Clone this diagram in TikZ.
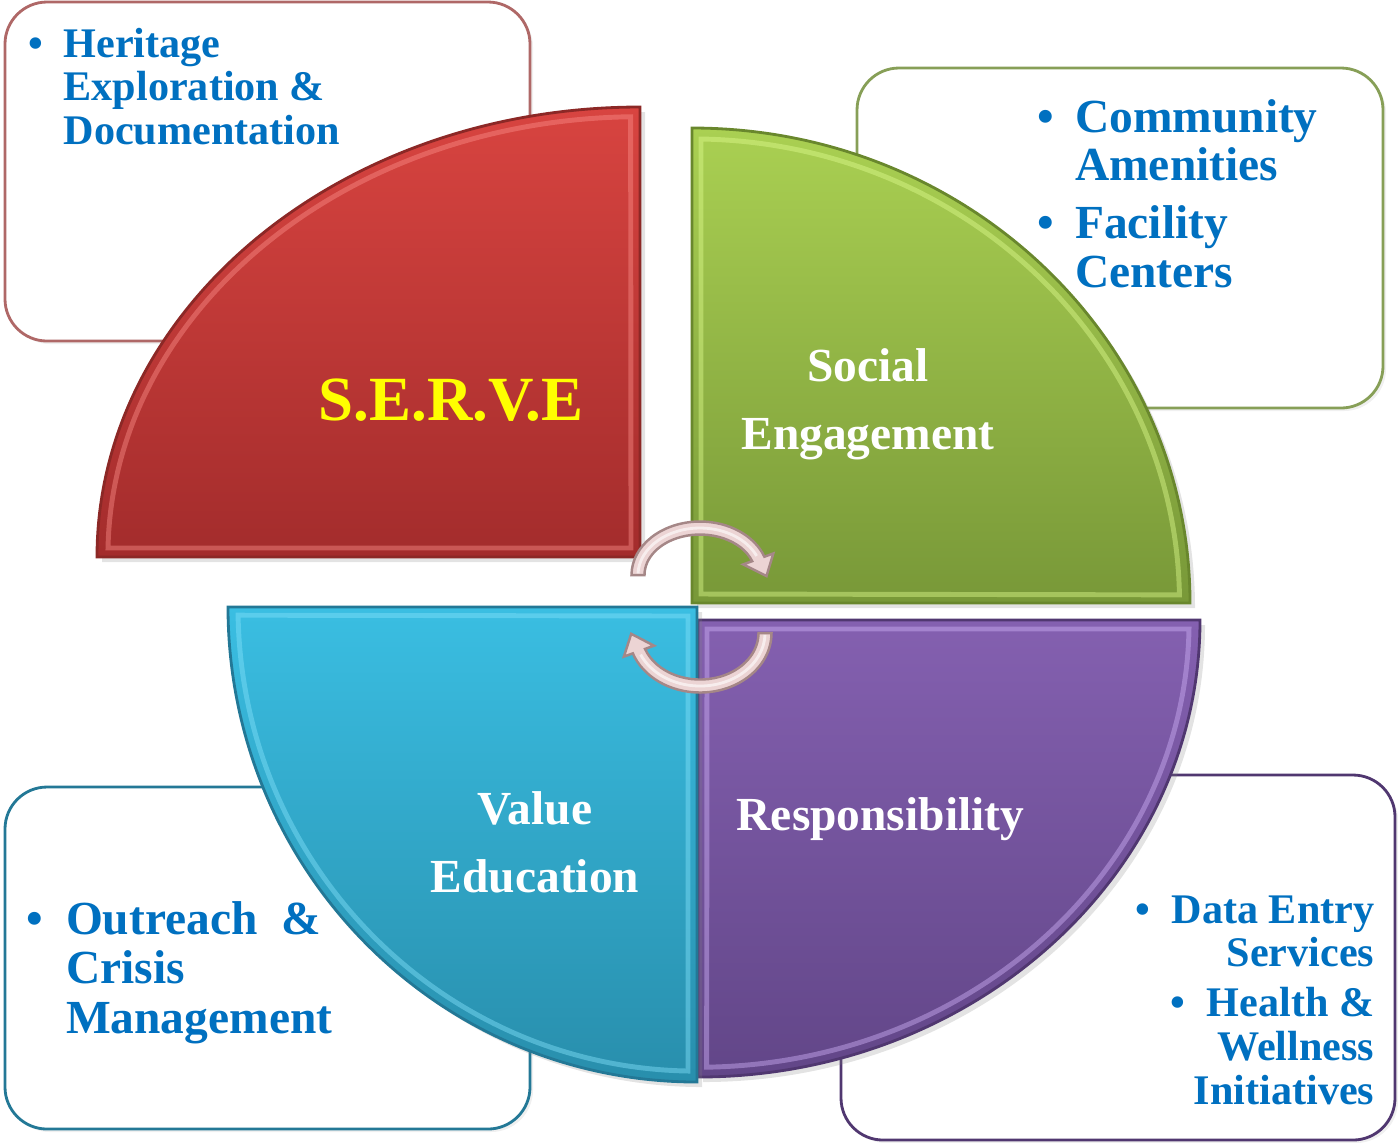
\documentclass[tikz,border=0pt]{standalone}
\usepackage{fontspec}
\setmainfont{Liberation Serif}
\usetikzlibrary{calc}
\usetikzlibrary{shadows}

\definecolor{listblue}{RGB}{0,112,192}
\definecolor{serveyellow}{RGB}{255,255,0}
\definecolor{redtop}{RGB}{216,68,64}
\definecolor{redbot}{RGB}{163,44,44}
\definecolor{redline}{RGB}{140,40,38}
\definecolor{redlight}{RGB}{250,140,135}
\definecolor{greentop}{RGB}{170,208,82}
\definecolor{greenbot}{RGB}{120,152,56}
\definecolor{greenline}{RGB}{105,135,45}
\definecolor{greenlight}{RGB}{220,250,140}
\definecolor{purpletop}{RGB}{132,96,176}
\definecolor{purplebot}{RGB}{98,70,136}
\definecolor{purpleline}{RGB}{80,55,112}
\definecolor{purplelight}{RGB}{205,175,245}
\definecolor{bluetop}{RGB}{58,190,226}
\definecolor{bluebot}{RGB}{40,142,172}
\definecolor{blueline}{RGB}{35,120,150}
\definecolor{bluelight}{RGB}{130,225,250}
\definecolor{cycfill}{RGB}{236,212,212}
\definecolor{cycline}{RGB}{165,135,135}

\begin{document}
\begin{tikzpicture}[
    listbox/.style={fill=white, line width=0.8pt, rounded corners=0.42cm, drop shadow={opacity=0.12, shadow xshift=0.03, shadow yshift=-0.03}},
    quad/.style={line width=0.8pt, drop shadow={opacity=0.22, shadow xshift=0.05, shadow yshift=-0.05}},
    bevel/.style={line width=1.4pt, opacity=0.45},
    cyc/.style={fill=cycfill, draw=cycline, line width=0.7pt},
    listtext/.style={inner sep=0pt, text=listblue},
    quadtext/.style={inner sep=0pt, text=white, font=\bfseries\fontsize{13.5}{19.6}\selectfont}
  ]
    \useasboundingbox (0,0) rectangle (13.98,-11.42);

    % boxes behind the quadrants
    \draw[listbox, draw=redline!70] (0.05,-0.02) rectangle (5.30,-3.41);
    \draw[listbox, draw=greenline!80] (8.57,-0.68) rectangle (13.83,-4.08);
    \draw[listbox, draw=blueline] (0.05,-7.87) rectangle (5.30,-11.29);
    \draw[listbox, draw=purpleline] (8.41,-7.75) rectangle (13.95,-11.40);

    % quadrants
    \shade[quad, draw=redline, top color=redtop, bottom color=redbot] (6.40,-5.57) -- (0.97,-5.57) arc[start angle=180, end angle=90, x radius=5.43, y radius=4.50] -- cycle;
    \draw[bevel, draw=redlight] (6.31,-5.48) -- (1.08,-5.48) arc[start angle=179, end angle=91, x radius=5.32, y radius=4.39] -- cycle;

    \shade[quad, draw=greenline, top color=greentop, bottom color=greenbot] (6.92,-6.03) -- (6.92,-1.28) arc[start angle=90, end angle=0, x radius=4.98, y radius=4.75] -- cycle;
    \draw[bevel, draw=greenlight] (7.01,-5.94) -- (7.01,-1.39) arc[start angle=89, end angle=1, x radius=4.87, y radius=4.64] -- cycle;

    \shade[quad, draw=purpleline, top color=purpletop, bottom color=purplebot] (6.98,-6.20) -- (12.00,-6.20) arc[start angle=0, end angle=-90, x radius=5.02, y radius=4.57] -- cycle;
    \draw[bevel, draw=purplelight] (7.07,-6.29) -- (11.89,-6.29) arc[start angle=-1, end angle=-89, x radius=4.91, y radius=4.46] -- cycle;

    \shade[quad, draw=blueline, top color=bluetop, bottom color=bluebot] (6.97,-6.07) -- (6.97,-10.82) arc[start angle=270, end angle=180, x radius=4.69, y radius=4.75] -- cycle;
    \draw[bevel, draw=bluelight] (6.88,-6.16) -- (6.88,-10.71) arc[start angle=269, end angle=181, x radius=4.58, y radius=4.64] -- cycle;

    % cycle arrows
    \coordinate (topc) at (7.00,-5.75);
    \coordinate (botc) at (7.00,-6.33);
    \draw[cyc] ($(topc)+(180:0.685 and 0.535)$) arc[start angle=180, end angle=20, x radius=0.685, y radius=0.535]
      -- ($(topc)+(20:0.78 and 0.63)$) -- ($(topc)+(0.665,-0.01)$) -- ($(topc)+(20:0.46 and 0.31)$)
      -- ($(topc)+(20:0.555 and 0.405)$) arc[start angle=20, end angle=180, x radius=0.555, y radius=0.405] -- cycle;
    \draw[white, line width=0.8pt, opacity=0.6] ($(topc)+(178:0.62 and 0.47)$) arc[start angle=178, end angle=24, x radius=0.62, y radius=0.47];
    \draw[cyc] ($(botc)+(0:0.715 and 0.595)$) arc[start angle=0, end angle=-160, x radius=0.715, y radius=0.595]
      -- ($(botc)+(-160:0.81 and 0.69)$) -- ($(botc)+(-0.688,-0.008)$) -- ($(botc)+(-160:0.49 and 0.37)$)
      -- ($(botc)+(-160:0.585 and 0.465)$) arc[start angle=-160, end angle=0, x radius=0.585, y radius=0.465] -- cycle;
    \draw[white, line width=0.8pt, opacity=0.6] ($(botc)+(-2:0.65 and 0.53)$) arc[start angle=-2, end angle=-156, x radius=0.65, y radius=0.53];

    % quadrant labels
    \node[inner sep=0pt, text=serveyellow, font=\bfseries\fontsize{17.9}{20}\selectfont, anchor=base west] (serve) at (3.18,-4.20) {S.E.R.V.E};
    \node[quadtext, anchor=base] (social) at (8.68,-3.81) {\begin{tabular}[t]{@{}c@{}}Social\\Engagement\end{tabular}};
    \node[quadtext, anchor=base west] (resp) at (7.36,-8.30) {Responsibility};
    \node[quadtext, anchor=base] (value) at (5.35,-8.24) {\begin{tabular}[t]{@{}c@{}}Value\\Education\end{tabular}};

    % lists
    \node[listtext, font=\bfseries\fontsize{12}{12.5}\selectfont, anchor=base west] (heritage) at (0.28,-0.57)
      {\begin{tabular}[t]{@{}l@{\hspace{0.48em}}l@{}}\textbullet & Heritage\\ & Exploration \&\\ & Documentation\end{tabular}};
    \node[listtext, font=\bfseries\fontsize{13.5}{13.8}\selectfont, anchor=base west] (amenity) at (10.37,-1.32)
      {\begin{tabular}[t]{@{}l@{\hspace{0.44em}}l@{}}\textbullet & Community\\ & Amenities\\[2.7pt] \textbullet & Facility\\ & Centers\end{tabular}};
    \node[listtext, font=\bfseries\fontsize{13.5}{14.2}\selectfont, anchor=base west] (outreach) at (0.26,-9.34)
      {\begin{tabular}[t]{@{}l@{\hspace{0.48em}}l@{}}\textbullet & Outreach\ \ \&\\ & Crisis\\ & Management\end{tabular}};
    \node[listtext, font=\bfseries\fontsize{12}{12.5}\selectfont, anchor=base east] (dataentry) at (13.75,-9.23)
      {\begin{tabular}[t]{@{}r@{}}\textbullet\enspace Data Entry\\ Services\\[1.7pt] \textbullet\enspace Health \&\\ Wellness\\ Initiatives\end{tabular}};
\end{tikzpicture}
\end{document}
